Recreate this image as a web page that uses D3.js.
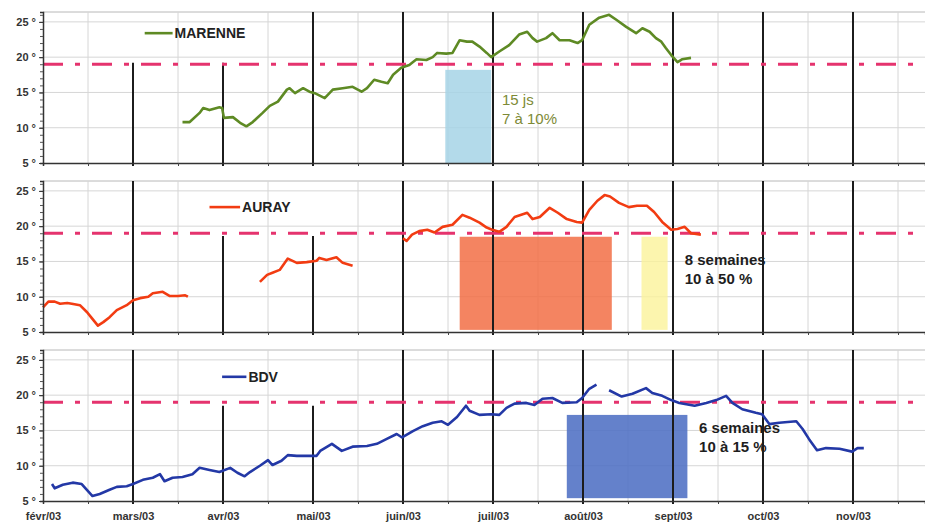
<!DOCTYPE html>
<html>
<head>
<meta charset="utf-8">
<script src="https://cdn.jsdelivr.net/npm/d3@7"></script>
<style>
  body { margin: 0; background: #fff; }
  .narrow { font-family: "Liberation Sans Narrow", "Arial Narrow", "Liberation Sans", Arial, sans-serif; font-weight: bold; }
  .note { font-family: "Liberation Sans", Arial, sans-serif; }
</style>
</head>
<body>
<div id="chart"></div>
<script>
// x values are month positions counted from 1 févr 2003 (1 = 1 mars, 2 = 1 avr ...)
const months = ["févr/03", "mars/03", "avr/03", "mai/03", "juin/03", "juil/03", "août/03", "sept/03", "oct/03", "nov/03"];
const yTicks = [5, 10, 15, 20, 25];
const seuil = 19;

const marenne = [
  [1.55,10.8],[1.63,10.8],[1.74,12.1],[1.78,12.8],[1.85,12.5],[1.96,12.9],[1.99,12.8],[2.01,11.4],[2.11,11.5],
  [2.19,10.7],[2.26,10.2],[2.33,10.8],[2.44,12.1],[2.52,13.1],[2.61,13.7],[2.71,15.4],[2.74,15.6],[2.8,14.9],
  [2.89,15.6],[2.96,15.1],[3.02,14.9],[3.13,14.2],[3.22,15.4],[3.33,15.6],[3.44,15.8],[3.54,15.1],[3.6,15.6],
  [3.68,16.8],[3.76,16.5],[3.83,16.3],[3.89,17.5],[3.98,18.5],[4.07,18.9],[4.15,19.7],[4.26,19.6],[4.33,20.0],
  [4.38,20.6],[4.48,20.5],[4.55,20.6],[4.63,22.4],[4.71,22.2],[4.77,22.2],[4.85,21.5],[4.93,20.6],[4.98,20.0],
  [5.07,20.8],[5.18,21.7],[5.29,23.2],[5.38,23.6],[5.44,22.7],[5.49,22.2],[5.59,22.7],[5.66,23.4],[5.74,22.4],
  [5.85,22.4],[5.94,22.0],[5.99,22.4],[6.07,24.6],[6.18,25.6],[6.29,26.0],[6.37,25.3],[6.48,24.3],[6.59,23.4],
  [6.66,24.1],[6.74,23.6],[6.81,22.7],[6.87,22.2],[6.92,21.3],[6.98,20.3],[7.05,19.3],[7.1,19.7],[7.2,19.9]
];

// null = gap in the record
const auray = [
  [0,8.5],[0.06,9.3],[0.13,9.3],[0.19,9.0],[0.27,9.1],[0.32,9.0],[0.41,8.8],[0.49,7.8],[0.54,7.0],[0.61,5.9],
  [0.67,6.4],[0.74,7.1],[0.82,8.1],[0.93,8.8],[1.0,9.5],[1.08,9.8],[1.17,10.0],[1.22,10.5],[1.33,10.7],
  [1.41,10.1],[1.5,10.1],[1.58,10.2],[1.61,10.0],
  null,
  [2.41,12.1],[2.49,13.1],[2.55,13.4],[2.63,13.8],[2.72,15.4],[2.82,14.8],[2.93,14.9],[3.04,15.1],[3.07,15.5],
  [3.15,15.2],[3.26,15.6],[3.33,14.8],[3.44,14.4],
  null,
  [4.0,18.3],[4.04,17.9],[4.1,18.8],[4.18,19.3],[4.27,19.5],[4.35,19.1],[4.44,19.9],[4.55,20.2],[4.66,21.6],
  [4.74,21.2],[4.85,20.5],[4.93,19.8],[4.99,19.5],[5.07,19.2],[5.15,19.9],[5.24,21.3],[5.38,21.9],[5.44,21.0],
  [5.52,21.3],[5.63,22.6],[5.72,21.9],[5.82,21.0],[5.93,20.6],[5.99,20.5],[6.07,22.3],[6.16,23.6],[6.24,24.4],
  [6.3,24.2],[6.4,23.3],[6.51,22.7],[6.6,22.9],[6.71,22.9],[6.79,22.0],[6.88,20.6],[6.98,19.5],[7.05,19.6],
  [7.13,19.9],[7.2,19.0],[7.31,18.8]
];

const bdv = [
  [0.1,7.4],[0.13,6.8],[0.22,7.3],[0.33,7.6],[0.43,7.4],[0.5,6.4],[0.55,5.7],[0.63,6.0],[0.74,6.6],[0.82,7.0],
  [0.93,7.1],[1.0,7.4],[1.11,8.0],[1.22,8.3],[1.3,8.8],[1.35,7.8],[1.44,8.3],[1.55,8.4],[1.66,8.8],[1.74,9.7],
  [1.85,9.4],[1.96,9.1],[2.08,9.7],[2.16,9.0],[2.24,8.5],[2.3,9.1],[2.41,10.0],[2.5,10.8],[2.55,10.1],[2.65,10.7],
  [2.72,11.5],[2.82,11.4],[2.93,11.4],[3.04,11.4],[3.08,12.1],[3.21,13.1],[3.32,12.1],[3.44,12.7],[3.6,12.8],
  [3.71,13.1],[3.82,13.8],[3.93,14.5],[3.99,14.0],[4.11,14.9],[4.22,15.6],[4.33,16.1],[4.43,16.3],[4.5,15.8],
  [4.6,16.9],[4.7,18.5],[4.74,17.8],[4.85,17.2],[4.98,17.3],[5.07,17.2],[5.15,18.2],[5.24,18.8],[5.37,18.9],
  [5.46,18.6],[5.55,19.5],[5.66,19.6],[5.77,18.9],[5.93,19.0],[5.99,19.6],[6.07,20.9],[6.15,21.5],
  null,
  [6.29,20.7],[6.43,19.8],[6.55,20.2],[6.7,21.0],[6.77,20.3],[6.88,19.9],[6.98,19.3],[7.07,18.9],[7.24,18.5],
  [7.37,18.9],[7.48,19.3],[7.59,19.9],[7.66,18.9],[7.77,18.0],[7.92,17.5],[7.99,17.3],[8.07,15.9],[8.18,16.1],
  [8.37,16.3],[8.44,15.2],[8.51,13.8],[8.6,12.2],[8.7,12.5],[8.85,12.4],[8.99,12.0],[9.05,12.5],[9.12,12.5]
];

// shaded periods: [x0, x1, yLow, yHigh]
const zoneMarenne = [4.47, 4.98, 5, 18.2];
const zoneAuray = [4.63, 6.32, 5.3, 18.5];
const zoneAurayFin = [6.65, 6.94, 5.3, 18.5];
const zoneBdv = [5.82, 7.16, 5.4, 17.2];

const notesMarenne = ["15 js", "7 à 10%"];
const notesAuray = ["8 semaines", "10 à 50 %"];
const notesBdv = ["6 semaines", "10 à 15 %"];

const width = 925, height = 522;
const panelTops = [12, 181, 350];
const panelH = 151;
const yDomain = [5, 26.4];

const svg = d3.select("#chart").append("svg")
  .attr("width", width)
  .attr("height", height);

const x = d3.scaleLinear().domain([0, 9.8]).range([43, 925]);

const panels = [
  { name: "MARENNE", data: marenne, color: "#5e8a24", legend: [1.13, 1.44, 23.4],
    zones: [{ z: zoneMarenne, fill: "#a6d3e6", op: 0.85 }],
    notes: notesMarenne, noteAt: [5.1, 13.2], noteColor: "#7d8a36", noteWeight: "normal",
    shortLines: [1, 2], shortTop: 19.2 },
  { name: "AURAY", data: auray, color: "#f23c12", legend: [1.85, 2.19, 22.7],
    zones: [{ z: zoneAuray, fill: "#f26e45", op: 0.85 }, { z: zoneAurayFin, fill: "#fbf39a", op: 0.8 }],
    notes: notesAuray, noteAt: [7.13, 14.5], noteColor: "#1e1e1e", noteWeight: "bold",
    shortLines: [2, 3], shortTop: 18.6 },
  { name: "BDV", data: bdv, color: "#2338a6", legend: [1.99, 2.26, 22.6],
    zones: [{ z: zoneBdv, fill: "#4f6fc4", op: 0.88 }],
    notes: notesBdv, noteAt: [7.29, 14.6], noteColor: "#1e1e1e", noteWeight: "bold",
    shortLines: [2, 3], shortTop: 18.5 }
];

panels.forEach((p, i) => {
  const top = panelTops[i];
  const y = d3.scaleLinear().domain(yDomain).range([top + panelH, top]);
  const g = svg.append("g");

  // top border
  g.append("line")
    .attr("x1", x(0)).attr("x2", width)
    .attr("y1", y(yDomain[1])).attr("y2", y(yDomain[1]))
    .attr("stroke", "#b8b8b8");

  // light gridlines
  g.selectAll(".hgrid").data(yTicks.slice(1)).enter().append("line")
    .attr("x1", x(0)).attr("x2", width)
    .attr("y1", d => y(d)).attr("y2", d => y(d))
    .attr("stroke", "#d6d6d6");
  const halfMonths = d3.range(0.5, 10, 1);
  g.selectAll(".vgrid").data(halfMonths).enter().append("line")
    .attr("x1", d => x(d)).attr("x2", d => x(d))
    .attr("y1", y(yDomain[1])).attr("y2", y(5))
    .attr("stroke", "#d6d6d6");

  // shaded periods
  p.zones.forEach(zn => {
    const [x0, x1, v0, v1] = zn.z;
    g.append("rect")
      .attr("x", x(x0)).attr("y", y(v1))
      .attr("width", x(x1) - x(x0)).attr("height", y(v0) - y(v1))
      .attr("fill", zn.fill).attr("opacity", zn.op);
  });

  // month separators
  g.selectAll(".month").data(d3.range(1, 10)).enter().append("line")
    .attr("x1", d => x(d)).attr("x2", d => x(d))
    .attr("y1", d => p.shortLines.includes(d) ? y(p.shortTop) : y(yDomain[1]))
    .attr("y2", y(5) + 3)
    .attr("stroke", "#1c1c1c")
    .attr("stroke-width", 2);

  // threshold
  g.append("line")
    .attr("x1", x(0)).attr("x2", width)
    .attr("y1", y(seuil)).attr("y2", y(seuil))
    .attr("stroke", "#e5336e")
    .attr("stroke-width", 3)
    .attr("stroke-dasharray", "20,12,5,12");

  // temperature curve
  const line = d3.line()
    .defined(d => d !== null)
    .x(d => x(d[0]))
    .y(d => y(d[1]));
  g.append("path")
    .datum(p.data)
    .attr("fill", "none")
    .attr("stroke", p.color)
    .attr("stroke-width", 2.6)
    .attr("stroke-linejoin", "round")
    .attr("d", line);

  // axes
  const yAxis = g.append("g")
    .attr("transform", `translate(${x(0)},0)`)
    .call(d3.axisLeft(y).tickValues(d3.range(5, 26.5, 1)).tickSize(3).tickFormat(""));
  yAxis.select(".domain").attr("stroke", "#333").attr("stroke-width", 1.5);
  yAxis.selectAll(".tick line").attr("stroke", "#555");

  const yLab = g.append("g")
    .attr("transform", `translate(${x(0)},0)`)
    .call(d3.axisLeft(y).tickValues(yTicks).tickSize(4).tickPadding(3).tickFormat(d => d + " °"));
  yLab.select(".domain").remove();
  yLab.selectAll("text").attr("class", "narrow").attr("font-size", 11).attr("fill", "#333");
  yLab.selectAll(".tick line").attr("stroke", "#333");

  const xAxis = g.append("g")
    .attr("transform", `translate(0,${y(5)})`)
    .call(d3.axisBottom(x).tickValues(halfMonths).tickSize(3).tickFormat(""));
  xAxis.select(".domain").attr("stroke", "#333").attr("stroke-width", 1.5);
  xAxis.selectAll(".tick line").attr("stroke", "#444");

  if (i === 2) {
    const lab = g.append("g")
      .attr("transform", `translate(0,${y(5)})`)
      .call(d3.axisBottom(x).tickValues(d3.range(0, 10)).tickSize(0).tickPadding(11)
        .tickFormat(d => months[d]));
    lab.select(".domain").remove();
    lab.selectAll("text").attr("class", "narrow").attr("font-size", 11).attr("fill", "#333");
  }

  // legend
  const [l0, l1, lv] = p.legend;
  g.append("line")
    .attr("x1", x(l0)).attr("x2", x(l1))
    .attr("y1", y(lv)).attr("y2", y(lv))
    .attr("stroke", p.color).attr("stroke-width", 2.6);
  g.append("text")
    .attr("class", "narrow")
    .attr("x", x(l1) + 2).attr("y", y(lv) + 5)
    .attr("font-size", 14)
    .attr("fill", "#222")
    .text(p.name);

  // annotation
  g.selectAll(".note").data(p.notes).enter().append("text")
    .attr("class", "note")
    .attr("x", x(p.noteAt[0]))
    .attr("y", (d, k) => y(p.noteAt[1]) + k * 19)
    .attr("font-size", 15)
    .attr("font-weight", p.noteWeight)
    .attr("fill", p.noteColor)
    .text(d => d);
});
</script>
</body>
</html>
